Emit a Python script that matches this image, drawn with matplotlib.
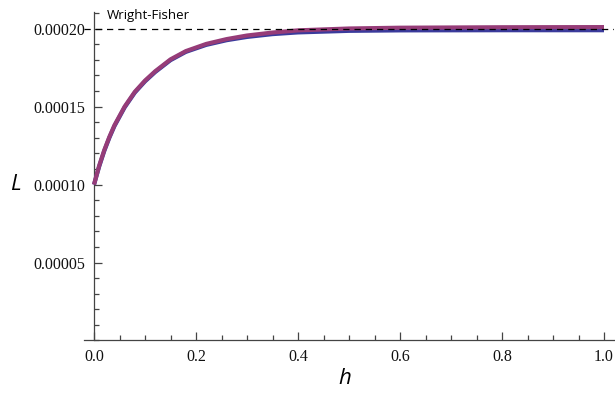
import matplotlib
matplotlib.use("Agg")
import matplotlib.pyplot as plt
from matplotlib.ticker import MultipleLocator, FormatStrFormatter

# Data (L in units of 1e-4)
h = [0.00, 0.01, 0.02, 0.03, 0.04, 0.06, 0.08, 0.10, 0.12, 0.15, 0.18,
     0.22, 0.26, 0.30, 0.35, 0.40, 0.50, 0.60, 0.80, 1.00]
L_blue = [1.000, 1.115, 1.215, 1.300, 1.375, 1.495, 1.590, 1.662, 1.722,
          1.798, 1.851, 1.896, 1.926, 1.947, 1.965, 1.976, 1.986, 1.989,
          1.990, 1.990]
L_magenta = [1.000, 1.120, 1.220, 1.305, 1.380, 1.500, 1.595, 1.667, 1.727,
             1.803, 1.856, 1.902, 1.933, 1.956, 1.975, 1.989, 2.001, 2.006,
             2.009, 2.010]
wf_level = 0.00020
x_ticks = [0.0, 0.2, 0.4, 0.6, 0.8, 1.0]
y_ticks = [0.00005, 0.00010, 0.00015, 0.00020]

fig = plt.figure(figsize=(6.15, 3.94), dpi=100)
ax = fig.add_axes([0.1363, 0.1358, 0.8624, 0.835])

ax.plot(h, [v * 1e-4 for v in L_blue], color="#3b3b9c", lw=3.0,
        solid_capstyle="butt", zorder=3)
ax.plot(h, [v * 1e-4 for v in L_magenta], color="#963c78", lw=3.0,
        solid_capstyle="butt", zorder=4)
ax.axhline(wf_level, color="black", lw=0.9, dashes=(5, 4), zorder=5)

ax.text(0.025, 0.000204, "Wright-Fisher", fontsize=9.5, family="Open Sans",
        ha="left", va="bottom")

ax.set_xlim(-0.02, 1.02)
ax.set_ylim(0, 0.000211)

for s in ["top", "right"]:
    ax.spines[s].set_visible(False)
for s in ["left", "bottom"]:
    ax.spines[s].set_color("#444444")
    ax.spines[s].set_linewidth(0.9)
ax.spines["left"].set_position(("data", 0))
ax.spines["bottom"].set_position(("data", 0))

ax.set_xticks(x_ticks)
ax.set_yticks(y_ticks)
ax.xaxis.set_minor_locator(MultipleLocator(0.05))
ax.yaxis.set_minor_locator(MultipleLocator(0.00001))
ax.xaxis.set_major_formatter(FormatStrFormatter("%.1f"))
ax.yaxis.set_major_formatter(FormatStrFormatter("%.5f"))
ax.tick_params(which="both", direction="in", color="#444444", width=0.9,
               labelsize=11.5, labelcolor="#111111")
ax.tick_params(which="major", length=6, pad=6)
ax.tick_params(which="minor", length=3.5)
for lab in ax.get_xticklabels() + ax.get_yticklabels():
    lab.set_family("Liberation Serif")

fig.text(15 / 615, 1 - 185 / 394, "L", fontsize=16, style="italic",
         family="Open Sans", ha="center", va="center")
fig.text(345 / 615, 1 - 378 / 394, "h", fontsize=16, style="italic",
         family="Open Sans", ha="center", va="center")

fig.savefig("out.png", dpi=100)
